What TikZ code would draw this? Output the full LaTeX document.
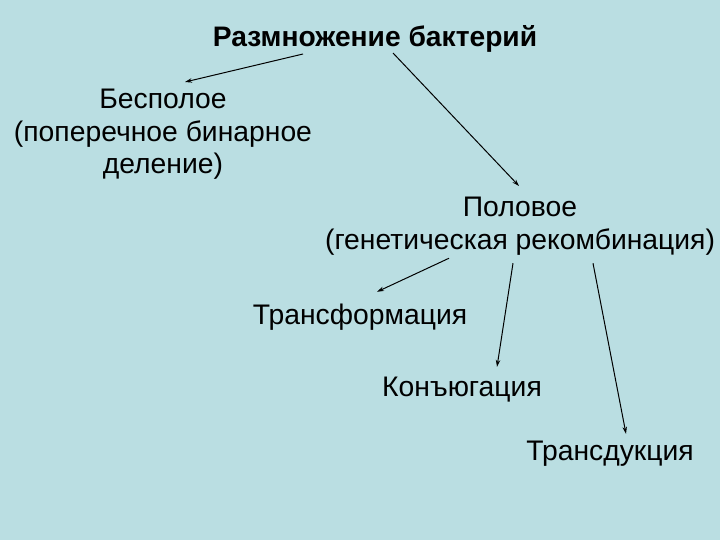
\documentclass[tikz,border=0pt]{standalone}
\usepackage{fontspec}
\setmainfont{Liberation Sans}
\usetikzlibrary{arrows.meta,calc}
\definecolor{bgc}{RGB}{186,222,226}
\begin{document}
\begin{tikzpicture}[x=1pt,y=-1pt,
  lbl/.style={inner sep=0pt,font=\fontsize{28.3}{32.5}\selectfont,align=center},
  arr/.style={draw=black,line width=1pt,-{Stealth[length=7pt,width=4.5pt]}}]
\fill[bgc] (0,0) rectangle (720,540);
\useasboundingbox (0,0) rectangle (720,540);
\node[lbl,font=\fontsize{28.2}{32.5}\selectfont\bfseries,anchor=base] (t) at (375,47) {Размножение бактерий};
\node[lbl,anchor=north] (b) at (163,89) {Бесполое\\(поперечное бинарное\\деление)};
\node[lbl,anchor=north] (p) at (520,197) {Половое\\(генетическая рекомбинация)};
\node[lbl,anchor=base] (tr) at (360,324) {Трансформация};
\node[lbl,anchor=base] (k) at (462,396) {Конъюгация};
\node[lbl,anchor=base] (td) at (610,460) {Трансдукция};
\draw[arr] ($(t.base)+(-72,7)$) -- ($(b.north)+(22,-7)$);
\draw[arr] ($(t.base)+(18,6)$) -- ($(p.north)+(-1,-11)$);
\draw[arr] ($(p.south)+(-71,3)$) -- ($(tr.north)+(17,-11.5)$);
\draw[arr] ($(p.south)+(-7,8)$) -- ($(k.north)+(35,-9.5)$);
\draw[arr] ($(p.south)+(73,8)$) -- ($(td.north)+(16,-6.5)$);
\end{tikzpicture}
\end{document}
